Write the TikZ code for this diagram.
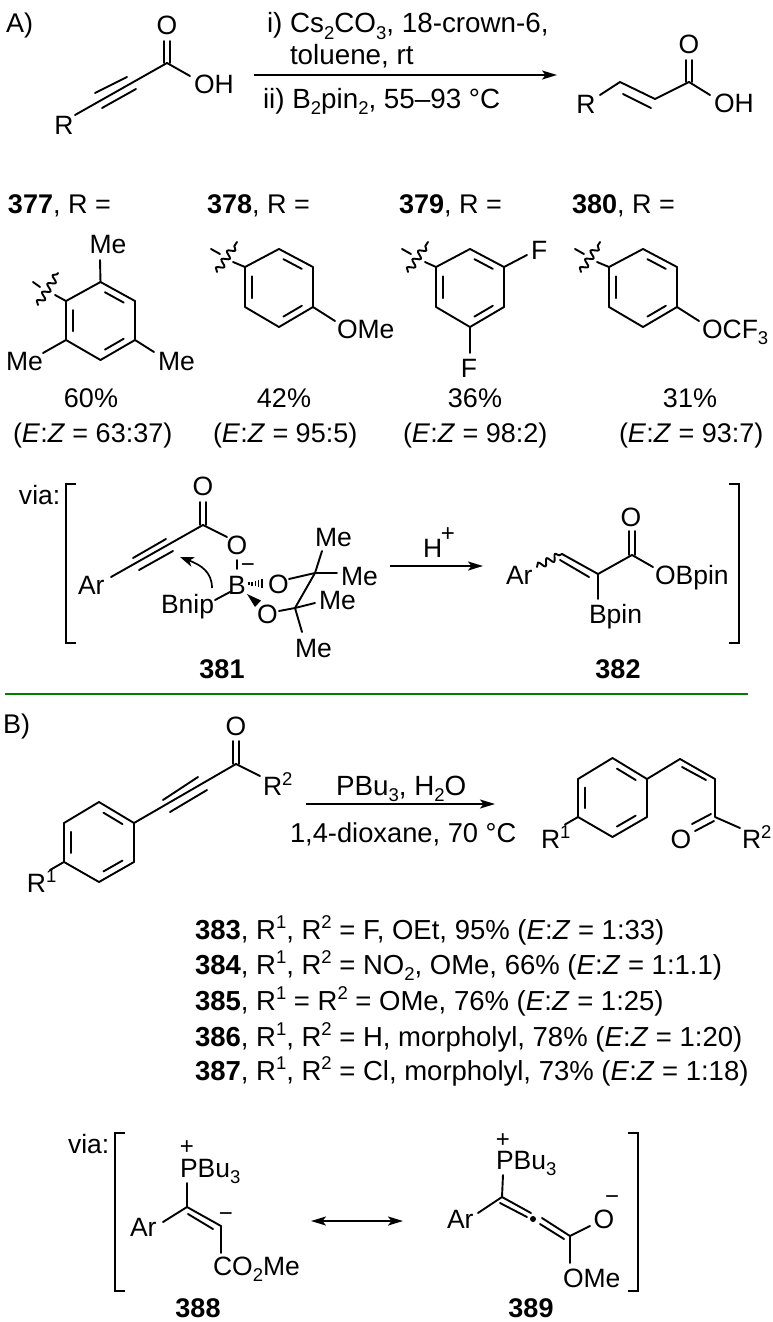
\documentclass[tikz,border=0pt]{standalone}
\usepackage{fontspec}
\setmainfont{Liberation Sans}
\usetikzlibrary{arrows.meta,calc,decorations.pathmorphing}
\newcommand\sbs[1]{\raisebox{-0.24em}{\fontsize{18.5}{18.5}\selectfont #1}}
\newcommand\sps[1]{\raisebox{0.35em}{\fontsize{18.5}{18.5}\selectfont #1}}
\newcommand\spl[1]{\raisebox{0.38em}{\fontsize{18.5}{18.5}\selectfont #1}}
\newcommand\Cc[3]{\coordinate (#1) at (#2,#3);}
\newcommand\EZ{(\textit{E}:\textit{Z} = }
\tikzset{
  lab/.style={inner sep=0pt,outer sep=0pt,anchor=base west,font=\fontsize{26.5}{26.5}\selectfont},
  labc/.style={lab,anchor=base},
  txt/.style={lab,font=\fontsize{27}{27}\selectfont},
  txtc/.style={txt,anchor=base},
  cond/.style={lab,font=\fontsize{27.8}{27.8}\selectfont},
  listl/.style={lab,font=\fontsize{27.5}{27.5}\selectfont},
  chg/.style={inner sep=0pt,outer sep=0pt,anchor=center,font=\fontsize{24}{24}\selectfont},
  bondl/.style={line width=1.9pt,line cap=round,line join=round,black},
  rarrow/.style={line width=1.9pt,-{Stealth[length=15pt,width=9pt,inset=3.5pt]},black},
  darrow/.style={line width=1.9pt,{Stealth[length=15pt,width=9pt,inset=3.5pt]}-{Stealth[length=15pt,width=9pt,inset=3.5pt]},black},
  wavy/.style={bondl,decorate,decoration={snake,segment length=#1,amplitude=3.5pt}},
  wavy/.default=10pt,
  brack/.style={line width=1.9pt,line join=miter,black},
}
% ring: prefix, left x, right x, top y, upper y, lower y, bottom y
\newcommand\ring[7]{%
  \coordinate (#1ul) at (#2,#5); \coordinate (#1ll) at (#2,#6);
  \coordinate (#1ur) at (#3,#5); \coordinate (#1lr) at (#3,#6);
  \coordinate (#1t) at ({(#2+#3)/2},#4); \coordinate (#1b) at ({(#2+#3)/2},#7);
  \coordinate (#1c) at ({(#2+#3)/2},{(#4+#7)/2});
  \draw[bondl] (#1ul)--(#1t)--(#1ur)--(#1lr)--(#1b)--(#1ll)--cycle;
  \draw[bondl] ($($(#1ul)!.16!(#1ll)$)!.2!(#1c)$)--($($(#1ul)!.84!(#1ll)$)!.2!(#1c)$);
  \draw[bondl] ($($(#1t)!.16!(#1ur)$)!.2!(#1c)$)--($($(#1t)!.84!(#1ur)$)!.2!(#1c)$);
  \draw[bondl] ($($(#1lr)!.16!(#1b)$)!.2!(#1c)$)--($($(#1lr)!.84!(#1b)$)!.2!(#1c)$);
}
\begin{document}
\begin{tikzpicture}[x=1pt,y=-1pt]
\useasboundingbox (0,0) rectangle (772,1322);
\fill[white] (0,0) rectangle (772,1322);

%%% Part A scheme
\node[txt] (lA) at (6,33) {A)};
\node[labc] (sO) at (167,35) {O};
\node[lab] (sOH) at (194,93) {OH};
\node[labc] (sR) at (64,134) {R};
\Cc{sC}{167}{63}\Cc{sCO}{167}{41}\Cc{sOHb}{190}{76}\Cc{sRb}{75}{115}
\Cc{st1}{95}{93}\Cc{st2}{127}{77}\Cc{st3}{102}{108}\Cc{st4}{136}{89}
\draw[bondl] ([xshift=-2.8pt]sC)--([xshift=-2.8pt]sCO);
\draw[bondl] ([xshift=2.8pt]sC)--([xshift=2.8pt]sCO);
\draw[bondl] (sC)--(sOHb);
\draw[bondl] (sC)--(sRb);
\draw[bondl] (st1)--(st2);
\draw[bondl] (st3)--(st4);

\Cc{aL}{254}{75}\Cc{aR}{557}{75}
\draw[rarrow] (aL)--(aR);
\node[cond] (c1) at (267,33) {i) Cs\sbs{2}CO\sbs{3}, 18-crown-6,};
\node[cond] (c2) at (290,65) {toluene, rt};
\node[cond] (c3) at (263,108) {ii) B\sbs{2}pin\sbs{2}, 55–93 °C};

\node[labc] (pO) at (689,53) {O};
\node[lab] (pOH) at (714,112) {OH};
\node[labc] (pR) at (586,113) {R};
\Cc{pC}{689}{82}\Cc{pCO}{689}{60}\Cc{pOHb}{710}{95}
\Cc{pC2}{655}{99}\Cc{pC3}{620}{82}\Cc{pRb}{600}{95}
\Cc{pi1}{623}{94}\Cc{pi2}{651}{108}
\draw[bondl] ([xshift=-2.8pt]pC)--([xshift=-2.8pt]pCO);
\draw[bondl] ([xshift=2.8pt]pC)--([xshift=2.8pt]pCO);
\draw[bondl] (pOHb)--(pC)--(pC2)--(pC3)--(pRb);
\draw[bondl] (pi1)--(pi2);

%%% R labels
\node[txt] (n377) at (8,213) {\textbf{377}, R =};
\node[txt] (n378) at (207,213) {\textbf{378}, R =};
\node[txt] (n379) at (399,213) {\textbf{379}, R =};
\node[txt] (n380) at (572,213) {\textbf{380}, R =};

%%% mesityl
\ring{m}{66}{135}{282}{301}{340}{360}
\node[labc] (mMe1) at (108,253) {Me};
\node[lab] (mMe2) at (6,370) {Me};
\node[lab] (mMe3) at (158,370) {Me};
\Cc{m1}{100}{260}\Cc{m2}{43}{353}\Cc{m3}{154}{352}
\Cc{mw}{55}{295}\Cc{mwa}{38}{305}\Cc{mwb}{58}{273}\Cc{mta}{33}{282}\Cc{mtb}{40}{287}
\draw[bondl] (mt)--(m1);
\draw[bondl] (mll)--(m2);
\draw[bondl] (mlr)--(m3);
\draw[bondl] (mul)--(mw);
\draw[wavy] (mwa)--(mwb);
\draw[bondl] (mta)--(mtb);

%%% anisyl
\ring{a}{245}{313}{249}{267}{307}{327}
\node[lab] (aOMe) at (337,338) {OMe};
\Cc{a1}{335}{321}\Cc{aw}{233}{262}\Cc{awa}{217}{272}\Cc{awb}{237}{242}\Cc{ata}{211}{249}\Cc{atb}{220}{254}
\draw[bondl] (alr)--(a1);
\draw[bondl] (aul)--(aw);
\draw[wavy] (awa)--(awb);
\draw[bondl] (ata)--(atb);

%%% difluorophenyl
\ring{f}{436}{504}{249}{267}{307}{327}
\node[lab] (fF1) at (531,259) {F};
\node[labc] (fF2) at (469,377) {F};
\Cc{f1}{527}{255}\Cc{f2}{470}{353}\Cc{fw}{425}{262}\Cc{fwa}{408}{272}\Cc{fwb}{428}{242}\Cc{fta}{402}{249}\Cc{ftb}{411}{254}
\draw[bondl] (fur)--(f1);
\draw[bondl] (fb)--(f2);
\draw[bondl] (ful)--(fw);
\draw[wavy] (fwa)--(fwb);
\draw[bondl] (fta)--(ftb);

%%% OCF3 phenyl
\ring{t}{609}{677}{249}{267}{307}{327}
\node[lab] (tO) at (702,338) {OCF\sbs{3}};
\Cc{t1}{699}{321}\Cc{tw}{597}{262}\Cc{twa}{581}{272}\Cc{twb}{600}{242}\Cc{tta}{575}{249}\Cc{ttb}{584}{254}
\draw[bondl] (tlr)--(t1);
\draw[bondl] (tul)--(tw);
\draw[wavy] (twa)--(twb);
\draw[bondl] (tta)--(ttb);

%%% yields
\node[txtc] (y1) at (91,407) {60\%};
\node[txt] (z1) at (13,442) {\EZ 63:37)};
\node[txtc] (y2) at (284,407) {42\%};
\node[txt] (z2) at (213,442) {\EZ 95:5)};
\node[txtc] (y3) at (475,407) {36\%};
\node[txt] (z3) at (403,442) {\EZ 98:2)};
\node[txtc] (y4) at (690,407) {31\%};
\node[txt] (z4) at (619,442) {\EZ 93:7)};

%%% via A
\node[lab] (viaA) at (19,504) {via:};
\draw[brack] (76,484)--(66,484)--(66,643)--(76,643);
\draw[brack] (729,484)--(739,484)--(739,643)--(729,643);

\node[labc] (iO) at (203,495) {O};
\node[labc] (iO2) at (237,554) {O};
\node[lab] (iAr) at (78,594) {Ar};
\node[labc] (iB) at (237,594) {B};
\node[lab] (iBn) at (161,613) {Bnip};
\node[chg] (iM) at (248,568) {−};
\node[lab] (iO3) at (268,593) {O};
\node[lab] (iO4) at (257,623) {O};
\node[lab] (iMe1) at (315,546) {Me};
\node[lab] (iMe2) at (341,585) {Me};
\node[lab] (iMe3) at (319,609) {Me};
\node[lab] (iMe4) at (295,657) {Me};
\node[txtc] (n381) at (222,678) {\textbf{381}};
\Cc{iC}{203}{525}\Cc{iCO}{203}{502}\Cc{iCb}{227}{537}\Cc{iArb}{111}{577}
\Cc{it1}{133}{558}\Cc{it2}{166}{539}\Cc{it3}{139}{570}\Cc{it4}{173}{551}
\Cc{ib1}{237}{560}\Cc{ib2}{237}{569}\Cc{ib3}{230}{592}\Cc{ib4}{215}{600}
\Cc{icA}{212}{588}\Cc{icB}{180}{557}
\Cc{iq1}{289}{579}\Cc{iK1}{315}{573}\Cc{iq2}{279}{611}\Cc{iK2}{295}{608}
\Cc{im1}{322}{551}\Cc{im2}{337}{573}\Cc{im3}{315}{603}\Cc{im4}{302}{632}
\draw[bondl] ([xshift=-2.8pt]iC)--([xshift=-2.8pt]iCO);
\draw[bondl] ([xshift=2.8pt]iC)--([xshift=2.8pt]iCO);
\draw[bondl] (iC)--(iCb);
\draw[bondl] (iC)--(iArb);
\draw[bondl] (it1)--(it2);
\draw[bondl] (it3)--(it4);
\draw[bondl] (ib1)--(ib2);
\draw[bondl] (ib3)--(ib4);
\draw[line width=1.7pt,-{Stealth[length=14pt,width=10pt,inset=4pt]},black] (icA) .. controls (212,572) and (201,565) .. (icB);
% hashed bond
\foreach \xx/\hh in {249/1.2,252.2/2,255.4/2.8,258.6/3.6,261.8/4.4}{
  \draw[line width=1.6pt,black] (\xx,583.5-\hh)--(\xx,583.5+\hh);
}
% solid wedge
\fill[black] (247,594)--(261,600.5)--(255,607)--cycle;
\draw[bondl] (iq1)--(iK1);
\draw[bondl] (iq2)--(iK2);
\draw[bondl] (iK1)--(iK2);
\draw[bondl] (iK1)--(im1);
\draw[bondl] (iK1)--(im2);
\draw[bondl] (iK2)--(im3);
\draw[bondl] (iK2)--(im4);

\Cc{hL}{390}{566}\Cc{hR}{483}{566}
\draw[rarrow] (hL)--(hR);
\node[lab] (hH) at (423,557) {H};
\node[chg] (hP) at (448,535) {+};

\node[lab] (jAr) at (506,584) {Ar};
\node[lab] (jOB) at (655,584) {OBpin};
\node[lab] (jB) at (589,623) {Bpin};
\node[labc] (jO) at (631,526) {O};
\node[txtc] (n382) at (618,678) {\textbf{382}};
\Cc{ja}{537}{567}\Cc{jb}{562}{554}\Cc{jc}{598}{574}\Cc{ji1}{560}{560}\Cc{ji2}{589}{577}
\Cc{jd}{632}{555}\Cc{je}{632}{531}\Cc{jf}{653}{567}\Cc{jg}{598}{599}
\draw[wavy=9.6pt] (ja)--(jb);
\draw[bondl] (jb)--(jc)--(jd)--(jf);
\draw[bondl] (ji1)--(ji2);
\draw[bondl] (jc)--(jg);
\draw[bondl] ([xshift=-2.8pt]jd)--([xshift=-2.8pt]je);
\draw[bondl] ([xshift=2.8pt]jd)--([xshift=2.8pt]je);

\Cc{gL}{5}{694}\Cc{gR}{748}{694}
\draw[line width=1.9pt,color=green!50!black] (gL)--(gR);

%%% Part B scheme
\node[txt] (lB) at (3,733) {B)};
\node[labc] (bO) at (236,735) {O};
\node[lab] (bR2) at (263,795) {R\sps{2}};
\node[lab] (bR1) at (27,892) {R\sps{1}};
\ring{b}{64}{134}{802}{823}{862}{882}
\Cc{bC}{236}{764}\Cc{bCO}{236}{741}\Cc{bRb}{260}{776}\Cc{bR1b}{50}{870}
\Cc{bt1}{163}{800}\Cc{bt2}{198}{777}\Cc{bt3}{170}{812}\Cc{bt4}{207}{790}
\draw[bondl] ([xshift=-2.8pt]bC)--([xshift=-2.8pt]bCO);
\draw[bondl] ([xshift=2.8pt]bC)--([xshift=2.8pt]bCO);
\draw[bondl] (bC)--(bRb);
\draw[bondl] (bC)--(bur);
\draw[bondl] (bt1)--(bt2);
\draw[bondl] (bt3)--(bt4);
\draw[bondl] (bll)--(bR1b);

\Cc{qL}{306}{804}\Cc{qR}{495}{804}
\draw[rarrow] (qL)--(qR);
\node[cond] (d1) at (336,795) {PBu\sbs{3}, H\sbs{2}O};
\node[lab,font=\fontsize{27.3}{27.3}\selectfont] (d2) at (290,842) {1,4-dioxane, 70 °C};

\ring{r}{578}{647}{758}{779}{817}{837}
\node[lab] (rR1) at (541,848) {R\sps{1}};
\node[labc] (rO) at (681,848) {O};
\node[lab] (rR2) at (742,848) {R\sps{2}};
\Cc{r1}{680}{759}\Cc{r2}{715}{779}\Cc{r3}{715}{817}\Cc{r4}{740}{828}\Cc{r5}{565}{824.5}
\Cc{ri1}{682}{767}\Cc{ri2}{706}{780}\Cc{ro1}{692}{824}\Cc{ro2}{711}{814}\Cc{ro3}{695}{831}\Cc{ro4}{714}{821}
\draw[bondl] (rur)--(r1)--(r2)--(r3)--(r4);
\draw[bondl] (ri1)--(ri2);
\draw[bondl] (rll)--(r5);
\draw[bondl] (ro1)--(ro2);
\draw[bondl] (ro3)--(ro4);

%%% list
\node[listl] (L1) at (195,939) {\textbf{383}, R\spl{1}, R\spl{2} = F, OEt, 95\% \EZ 1:33)};
\node[listl] (L2) at (195,974) {\textbf{384}, R\spl{1}, R\spl{2} = NO\sbs{2}, OMe, 66\% \EZ 1:1.1)};
\node[listl] (L3) at (195,1010) {\textbf{385}, R\spl{1} = R\spl{2} = OMe, 76\% \EZ 1:25)};
\node[listl] (L4) at (195,1046) {\textbf{386}, R\spl{1}, R\spl{2} = H, morpholyl, 78\% \EZ 1:20)};
\node[listl] (L5) at (195,1080) {\textbf{387}, R\spl{1}, R\spl{2} = Cl, morpholyl, 73\% \EZ 1:18)};

%%% via B
\node[lab] (viaB) at (68,1153) {via:};
\draw[brack] (125,1133)--(115,1133)--(115,1291)--(125,1291);
\draw[brack] (628,1133)--(638,1133)--(638,1291)--(628,1291);

\node[lab] (uP) at (180,1177) {PBu\sbs{3}};
\node[chg] (uPl) at (187,1148) {+};
\node[lab] (uAr) at (130,1236) {Ar};
\node[chg] (uM) at (226,1217) {−};
\node[lab] (uCO) at (213,1275) {CO\sbs{2}Me};
\node[txtc] (n388) at (198,1317) {\textbf{388}};
\Cc{u1}{187}{1183}\Cc{u2}{187}{1207}\Cc{u3}{163}{1222}\Cc{u4}{221}{1226}\Cc{u5}{221}{1253}
\Cc{ui1}{188}{1214}\Cc{ui2}{213}{1229}
\draw[bondl] (u1)--(u2)--(u3);
\draw[bondl] (u2)--(u4)--(u5);
\draw[bondl] (ui1)--(ui2);

\Cc{dL}{311}{1221}\Cc{dR}{403}{1221}
\draw[darrow] (dL)--(dR);

\node[lab] (vP) at (496,1169) {PBu\sbs{3}};
\node[chg] (vPl) at (503,1141) {+};
\node[lab] (vAr) at (447,1228) {Ar};
\node[labc] (vO) at (604,1228) {O};
\node[chg] (vM) at (612,1200) {−};
\node[lab] (vOM) at (563,1287) {OMe};
\node[txtc] (n389) at (531,1317) {\textbf{389}};
\Cc{v1}{503}{1175}\Cc{v2}{502}{1197}\Cc{v3}{478}{1213}\Cc{v4}{531}{1213}\Cc{vi1}{500}{1203}\Cc{vi2}{527}{1217}
\Cc{v5}{542}{1218}\Cc{v6}{570}{1236}\Cc{vi3}{540}{1224}\Cc{vi4}{564}{1239}
\Cc{v7}{590}{1226}\Cc{v8}{570}{1263}\Cc{vd}{533}{1219}
\draw[bondl] (v1)--(v2)--(v3);
\draw[bondl] (v2)--(v4);
\draw[bondl] (vi1)--(vi2);
\draw[bondl] (v5)--(v6)--(v7);
\draw[bondl] (vi3)--(vi4);
\draw[bondl] (v6)--(v8);
\fill[black] (vd) circle (3pt);
\end{tikzpicture}
\end{document}
